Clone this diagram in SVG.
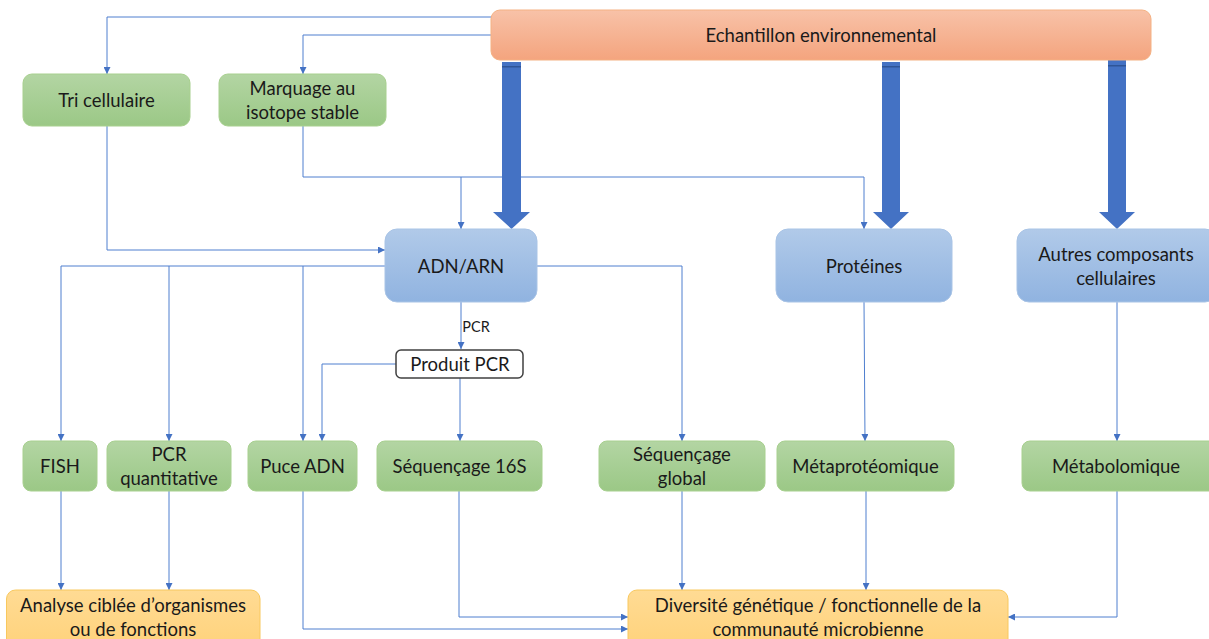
<svg xmlns="http://www.w3.org/2000/svg" width="1209" height="639" viewBox="0 0 1209 639">
<defs>
<linearGradient id="gGreen" x1="0" y1="0" x2="0" y2="1"><stop offset="0" stop-color="#b3d5a3"/><stop offset="1" stop-color="#9bc886"/></linearGradient>
<linearGradient id="gBlue" x1="0" y1="0" x2="0" y2="1"><stop offset="0" stop-color="#b1cae9"/><stop offset="1" stop-color="#90b3e0"/></linearGradient>
<linearGradient id="gOrange" x1="0" y1="0" x2="0" y2="1"><stop offset="0" stop-color="#f8c2a8"/><stop offset="1" stop-color="#f4a47e"/></linearGradient>
<linearGradient id="gYellow" x1="0" y1="0" x2="0" y2="1"><stop offset="0" stop-color="#ffdb94"/><stop offset="1" stop-color="#ffd27a"/></linearGradient>
<marker id="ah" viewBox="0 0 10 10" refX="10" refY="5" markerWidth="7" markerHeight="7" markerUnits="userSpaceOnUse" orient="auto"><path d="M0,0 L10,5 L0,10 z" fill="#4472c4"/></marker>
</defs>
<style>
.green{fill:url(#gGreen);stroke:#a8d08f;stroke-width:1}
.blue{fill:url(#gBlue);stroke:#a9c4e6;stroke-width:1}
.orange{fill:url(#gOrange);stroke:#f4b183;stroke-width:1}
.yellow{fill:url(#gYellow);stroke:#f8c85e;stroke-width:1}
.white{fill:#ffffff;stroke:#404040;stroke-width:1.5}
text{font-family:"Lato","Liberation Sans",sans-serif;font-size:18.5px;fill:#1a1a1a;text-anchor:middle;dominant-baseline:central}
.small{font-size:14.5px}
.conn{fill:none;stroke:#4f7fcf;stroke-width:1}
.thick{fill:#4472c4}
</style>

<g id="connectors">
<path class="conn" d="M491,17 H107 V74" marker-end="url(#ah)"/>
<path class="conn" d="M491,35 H303 V74" marker-end="url(#ah)"/>
<path class="conn" d="M107,126 V250 H385" marker-end="url(#ah)"/>
<path class="conn" d="M303,126 V177 H864 V229" marker-end="url(#ah)"/>
<path class="conn" d="M461,177 V229" marker-end="url(#ah)"/>
<path class="conn" d="M385,266 H61 V441" marker-end="url(#ah)"/>
<path class="conn" d="M169,266 V441" marker-end="url(#ah)"/>
<path class="conn" d="M303,266 V441" marker-end="url(#ah)"/>
<path class="conn" d="M537,266 H682 V441" marker-end="url(#ah)"/>
<path class="conn" d="M461,302 V349" marker-end="url(#ah)"/>
<path class="conn" d="M396,364 H322 V441" marker-end="url(#ah)"/>
<path class="conn" d="M460,378 V441" marker-end="url(#ah)"/>
<path class="conn" d="M864,302 L865,441" marker-end="url(#ah)"/>
<path class="conn" d="M1117,302 V441" marker-end="url(#ah)"/>
<path class="conn" d="M61,491 V590" marker-end="url(#ah)"/>
<path class="conn" d="M169,491 V590" marker-end="url(#ah)"/>
<path class="conn" d="M303,491 V629 H628" marker-end="url(#ah)"/>
<path class="conn" d="M459,491 V617 H628" marker-end="url(#ah)"/>
<path class="conn" d="M682,491 V590" marker-end="url(#ah)"/>
<path class="conn" d="M866,491 V590" marker-end="url(#ah)"/>
<path class="conn" d="M1117,491 V617 H1008" marker-end="url(#ah)"/>
<path class="thick" d="M502,62 H521 V212 H530 L511.5,229 L493,212 H502 Z"/>
<path class="thick" d="M882,62 H900 V212 H909 L891,229 L873,212 H882 Z"/>
<path class="thick" d="M1108,60 H1126 V212 H1135 L1117,229 L1099,212 H1108 Z"/>
<rect x="502" y="66" width="19" height="1.5" fill="#2f5597"/>
<rect x="882" y="66" width="18" height="1.5" fill="#2f5597"/>
<rect x="1108" y="65" width="18" height="1.5" fill="#2f5597"/>
</g>

<g id="echantillon"><rect class="orange" x="491" y="10" width="660" height="50" rx="9"/><text x="821" y="35">Echantillon environnemental</text></g>
<g id="tri"><rect class="green" x="23" y="74" width="167" height="52" rx="9"/><text x="106.5" y="100">Tri cellulaire</text></g>
<g id="marquage"><rect class="green" x="219" y="74" width="167" height="52" rx="9"/><text x="302.5" y="88">Marquage au</text><text x="302.5" y="112">isotope stable</text></g>
<g id="adn"><rect class="blue" x="385" y="229" width="152" height="73" rx="12"/><text x="461" y="266">ADN/ARN</text></g>
<g id="proteines"><rect class="blue" x="776" y="229" width="176" height="73" rx="12"/><text x="864" y="266">Protéines</text></g>
<g id="autres"><rect class="blue" x="1017" y="229" width="200" height="73" rx="12"/><text x="1116" y="254">Autres composants</text><text x="1116" y="278">cellulaires</text></g>
<g id="label-pcr"><text class="small" x="476" y="326">PCR</text></g>
<g id="produit"><rect class="white" x="396" y="350" width="127" height="28" rx="5"/><text x="460" y="364">Produit PCR</text></g>
<g id="fish"><rect class="green" x="23" y="441" width="74" height="50" rx="8"/><text x="60" y="466">FISH</text></g>
<g id="qpcr"><rect class="green" x="107" y="441" width="124" height="50" rx="8"/><text x="169" y="454">PCR</text><text x="169" y="478">quantitative</text></g>
<g id="puce"><rect class="green" x="248" y="441" width="109" height="50" rx="8"/><text x="302.5" y="466">Puce ADN</text></g>
<g id="seq16s"><rect class="green" x="377" y="441" width="165" height="50" rx="8"/><text x="459.5" y="466">Séquençage 16S</text></g>
<g id="seqglobal"><rect class="green" x="599" y="441" width="166" height="50" rx="8"/><text x="682" y="454">Séquençage</text><text x="682" y="478">global</text></g>
<g id="metaprot"><rect class="green" x="777" y="441" width="177" height="50" rx="8"/><text x="865.5" y="466">Métaprotéomique</text></g>
<g id="metabol"><rect class="green" x="1022" y="441" width="195" height="50" rx="8"/><text x="1116" y="466">Métabolomique</text></g>
<g id="analyse"><rect class="yellow" x="6.5" y="590" width="253.5" height="60" rx="9"/><text x="133" y="605">Analyse ciblée d’organismes</text><text x="133" y="629">ou de fonctions</text></g>
<g id="diversite"><rect class="yellow" x="628" y="590" width="380" height="60" rx="9"/><text x="818" y="605">Diversité génétique / fonctionnelle de la</text><text x="818" y="629">communauté microbienne</text></g>
</svg>
